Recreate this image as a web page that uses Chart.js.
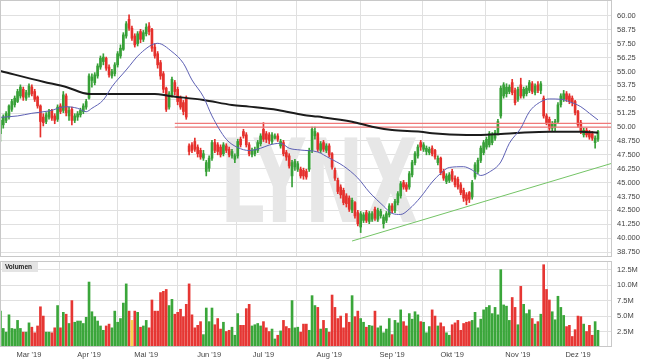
<!DOCTYPE html>
<html><head><meta charset="utf-8">
<script src="https://cdn.jsdelivr.net/npm/chart.js@4.4.1/dist/chart.umd.min.js"></script>
<style>
html,body{margin:0;padding:0;background:#fff;}
#wrap{position:relative;width:645px;height:363px;overflow:hidden;background:#fff;}
canvas{position:absolute;left:0;}
#pc{top:0;} #vc{top:258px;}
</style></head><body>
<div id="wrap"><canvas id="pc" width="645" height="258"></canvas><canvas id="vc" width="645" height="105"></canvas></div>
<script>
// ---- data (day index 0 = mid Feb 2019) ----
const monthLabels = ["Mar '19","Apr '19","Mai '19","Jun '19","Jul '19","Aug '19","Sep '19","Okt '19","Nov '19","Dez '19"];
const monthStarts = [10,31,51,73,92,115,137,158,181,202];

const opens = [49.4,50.2,50.6,50.9,51.6,52.0,52.3,52.8,53.4,52.6,52.9,53.6,53.2,52.7,51.9,50.9,
50.5,50.9,51.5,51.0,50.7,51.9,51.5,52.8,51.0,51.6,50.6,50.9,51.1,51.4,51.8,52.6,
54.2,54.0,54.6,55.4,55.9,56.2,55.4,54.6,54.8,55.6,56.4,57.0,58.2,59.7,58.9,58.2,
57.5,58.6,57.9,58.4,59.1,58.8,57.2,56.6,55.8,54.8,53.5,51.8,52.9,54.0,53.4,52.6,
52.2,52.6,48.3,48.4,48.7,48.2,47.9,47.2,46.0,46.3,47.2,48.6,48.4,48.2,47.6,48.3,
48.0,47.4,47.1,47.4,48.9,49.6,49.3,48.4,47.5,47.6,47.9,48.5,49.8,49.4,49.3,48.7,
49.0,49.2,48.3,48.6,47.7,47.4,45.6,46.4,46.2,46.2,46.1,46.0,46.2,47.9,49.2,49.4,
47.9,48.6,47.9,48.3,47.6,46.1,45.2,44.6,44.3,43.8,43.6,42.5,43.2,42.3,41.0,41.6,
42.3,41.5,41.7,42.6,41.7,42.0,41.3,41.6,42.1,42.9,42.5,43.2,43.8,45.0,44.8,44.6,
45.7,46.8,47.4,48.6,48.0,47.8,47.7,48.1,47.9,46.8,47.2,46.0,45.1,45.2,46.0,45.4,
45.3,44.8,44.3,43.9,44.1,43.7,45.5,46.0,47.0,47.7,48.2,48.4,48.6,49.0,49.5,51.0,
52.8,53.0,53.2,54.0,53.3,52.5,53.8,52.8,53.0,53.3,53.9,53.1,53.8,53.3,52.6,51.0,
50.7,49.9,50.0,50.5,52.0,52.5,53.0,52.8,52.6,52.3,51.4,50.4,49.3,49.7,49.5,49.4,48.6,48.9];
const highs = [50.8,51.1,51.4,52.0,52.5,52.8,53.4,53.8,53.6,53.3,53.9,53.8,53.4,52.8,52.0,51.2,
51.3,51.6,51.6,51.2,52.0,52.1,53.2,53.0,51.8,51.8,51.2,51.4,51.7,52.1,52.5,54.8,
54.8,54.9,55.7,56.4,56.6,56.3,55.6,55.2,55.8,56.8,57.4,58.5,59.5,60.1,59.1,58.4,
58.6,58.8,58.7,59.3,59.4,58.9,57.5,56.8,56.0,55.0,53.6,53.2,54.5,54.2,53.6,52.8,
52.4,52.8,48.5,48.6,49.0,48.4,48.1,47.9,47.0,47.4,48.8,48.9,48.6,48.4,48.6,48.5,
48.2,48.0,47.6,48.9,49.1,49.8,49.5,48.6,48.1,48.2,48.8,49.4,50.4,49.6,49.5,49.5,
49.4,49.4,48.9,48.8,47.9,47.6,47.0,47.1,46.9,46.4,46.3,46.2,48.1,50.0,50.0,49.5,
48.7,48.8,48.5,48.5,47.7,46.3,45.4,44.8,44.5,44.0,43.8,43.6,43.3,42.5,42.4,42.3,
42.5,42.4,42.4,42.8,42.7,42.6,42.1,42.4,43.1,43.1,43.5,44.2,45.1,45.2,45.0,46.0,
47.0,47.8,48.4,48.8,48.6,48.3,48.2,48.3,48.0,47.4,47.3,46.2,45.8,45.9,46.2,45.6,
45.5,45.0,44.5,44.1,44.2,45.2,46.8,47.2,48.3,48.8,49.1,49.6,49.5,49.7,50.7,53.7,
54.0,53.9,53.8,54.3,53.5,53.6,54.4,53.6,53.7,54.2,54.1,53.9,54.1,54.1,52.8,51.2,
50.9,50.5,50.7,52.2,53.0,53.3,53.2,53.0,52.8,52.4,51.5,50.6,49.9,49.9,49.7,49.6,49.2,49.7];
const lows = [48.7,49.9,50.4,50.7,51.4,51.8,52.2,52.6,52.4,52.4,52.7,52.8,52.3,51.7,49.1,50.1,
50.3,50.7,50.6,50.3,50.5,51.2,51.3,51.0,50.6,50.2,50.4,50.6,50.9,51.2,51.6,52.5,
53.6,53.8,54.4,55.2,55.6,55.1,54.5,54.4,54.6,55.4,56.2,56.9,58.0,58.7,57.8,57.2,
57.3,57.6,57.7,58.2,58.3,56.8,56.2,55.3,54.3,53.1,51.4,51.6,52.7,52.9,52.0,51.6,
51.1,50.7,47.5,47.7,47.8,47.3,47.1,47.0,45.6,46.0,47.0,47.7,47.5,47.3,47.4,47.7,
47.3,47.2,46.8,47.2,48.2,49.0,48.2,47.4,47.3,47.4,47.7,48.3,48.7,48.6,48.5,48.5,
48.9,48.7,48.1,47.4,47.0,46.3,44.6,46.1,46.0,45.4,45.3,45.3,46.0,47.7,48.9,47.8,
47.7,47.8,47.7,47.3,46.2,45.2,44.0,43.6,43.0,42.8,42.4,42.3,41.8,41.1,40.5,41.4,
41.4,41.3,41.5,41.6,41.5,41.8,40.9,41.4,41.9,42.3,42.3,43.0,43.6,44.4,44.2,44.4,
45.5,46.6,47.2,47.9,47.8,47.5,47.5,47.4,47.1,46.6,45.7,45.2,44.9,45.0,45.1,44.6,
44.4,43.9,43.3,43.0,43.2,43.5,45.3,45.8,46.8,47.5,48.0,48.2,48.4,48.8,49.3,50.8,
52.6,52.7,53.0,52.9,52.0,52.3,52.6,52.6,52.8,53.1,53.0,52.9,53.1,53.0,50.8,50.2,
49.7,49.6,49.6,50.3,51.8,52.3,52.3,52.1,51.9,51.1,50.0,49.4,49.1,49.1,48.9,48.8,48.1,48.7];
const closes = [50.6,50.9,51.2,51.9,52.3,52.6,53.2,53.6,52.7,53.1,53.7,53.0,52.5,51.9,50.5,50.4,
51.1,51.4,50.8,50.6,51.8,51.4,52.9,51.3,51.5,50.6,51.0,51.2,51.5,51.9,52.3,54.6,
54.5,54.7,55.5,56.2,56.3,55.3,54.7,55.0,55.6,56.6,57.1,58.3,59.3,58.9,58.0,57.4,
58.4,57.9,58.5,59.0,58.6,57.1,56.4,55.6,54.6,53.4,51.6,53.0,54.3,53.2,52.3,51.8,
51.4,50.9,47.8,47.9,48.0,47.6,47.3,47.6,46.8,47.2,48.6,47.9,47.8,47.5,48.4,47.9,
47.5,47.8,47.4,48.7,48.4,49.2,48.4,47.6,47.9,48.0,48.6,49.2,48.9,48.9,48.8,49.3,
49.2,48.9,48.7,47.6,47.3,46.5,46.8,46.9,46.7,45.6,45.6,45.5,47.9,49.8,49.6,48.0,
48.5,48.0,48.3,47.5,46.4,45.4,44.2,43.9,43.2,43.1,42.6,43.4,42.0,41.3,42.2,42.1,
41.6,42.2,42.2,41.8,42.5,42.4,41.9,42.2,42.9,42.5,43.3,44.0,44.9,44.6,44.4,45.8,
46.8,47.6,48.2,48.2,48.4,48.1,48.0,47.6,47.3,47.2,45.9,45.4,45.6,45.7,45.3,44.8,
44.6,44.1,43.6,43.4,43.5,45.0,46.6,47.0,48.1,48.6,48.9,49.4,49.3,49.5,50.5,53.5,
53.8,53.6,53.6,53.1,52.2,53.4,52.8,53.4,53.5,54.0,53.2,53.7,53.3,53.9,51.0,50.4,
49.9,50.3,50.5,52.0,52.8,53.0,52.5,52.3,52.2,51.3,50.2,49.6,49.7,49.3,49.1,49.0,49.0,49.6];
// volume in millions
const volumes = [5.8,3.0,2.4,5.2,3.0,2.9,4.3,3.0,2.4,2.4,3.9,3.2,2.3,3.4,6.5,5.0,
2.4,2.4,2.3,3.1,6.7,3.1,5.6,5.3,3.8,7.5,4.0,4.2,4.2,3.8,4.8,10.5,
5.7,4.9,4.2,3.4,2.7,3.4,3.7,3.1,5.8,4.0,4.6,7.1,10.2,5.8,4.3,5.8,
5.6,3.2,3.4,4.3,3.1,7.6,5.8,5.8,8.8,9.0,9.3,6.7,7.7,5.3,5.6,6.1,
4.9,6.9,10.2,5.2,3.1,3.5,4.1,2.0,6.3,4.1,6.3,3.6,4.6,2.9,4.0,2.5,
2.7,3.2,1.9,5.4,3.5,3.5,6.2,6.9,3.4,3.6,3.8,3.4,4.1,3.1,2.5,2.9,
1.3,1.9,2.6,4.3,3.3,3.0,7.5,3.1,3.2,2.4,3.7,3.7,2.7,8.3,6.7,6.4,
2.9,4.3,3.0,2.4,8.4,6.4,4.6,5.0,3.1,5.4,4.0,8.3,4.9,5.8,4.6,4.0,
3.2,3.5,3.4,5.8,3.1,3.4,2.3,2.9,4.6,2.0,4.3,3.9,6.0,4.1,3.4,5.4,
4.5,5.7,5.2,4.1,4.0,2.3,3.3,6.0,5.0,3.4,3.9,3.3,2.3,1.9,3.6,3.9,
4.3,2.7,3.8,4.0,4.1,4.3,5.6,3.1,4.5,6.0,6.4,6.7,5.4,6.4,5.2,12.5,
6.8,6.6,4.3,8.0,6.4,3.6,9.8,6.9,5.4,6.0,4.6,3.7,4.1,5.3,13.3,9.3,
7.6,5.7,4.4,8.2,6.4,5.1,3.3,3.5,1.7,2.8,5.0,4.9,3.7,2.5,3.5,1.9,4.1,2.7];
const highlightDay = 46;

// moving averages (day index, price)
const smaFastDays = [0,6,11,17,23,27,30,32,36,39,44,49,55,60,64,67,71,74,79,83,87,91,94,98,101,105,111,115,120,125,129,134,137,140,143,147,151,154,157,162,165,168,171,175,178,182,185,189,192,196,199,203,206,209];
const smaFastVals = [50.88,51.0,51.24,51.45,51.83,51.69,51.38,51.69,52.44,53.63,55.14,56.64,57.54,56.79,55.74,54.24,52.73,51.0,48.9,48.16,47.89,48.09,48.38,48.54,48.09,47.93,47.75,47.21,46.49,45.41,44.15,42.89,42.22,42.13,42.62,43.70,45.05,45.84,46.36,46.43,46.13,45.64,45.95,46.85,48.54,49.89,51.38,52.28,52.53,52.50,52.28,51.83,51.24,50.64];
const smaSlowDays = [0,15,23,31,54,59,71,81,87,97,106,111,123,130,137,147,151,163,168,175,182,192,203,209];
const smaSlowVals = [55.05,54.08,53.61,52.98,52.98,52.80,52.44,51.99,51.84,51.54,51.09,50.94,50.48,50.03,49.73,49.58,49.44,49.29,49.29,49.38,49.49,49.58,49.58,49.49];
// resistance band & support trend line
const resistanceLevels = [50.33, 50.0];
const resistanceDays = [61, 213.9];
const trendDays = [123, 213.9];
const trendVals = [39.74, 46.74];

const priceTicks = [38.75,40,41.25,42.5,43.75,45,46.25,47.5,48.75,50,51.25,52.5,53.75,55,56.25,57.5,58.75,60];
const priceTickLabels = ["38.750","40.000","41.250","42.500","43.750","45.000","46.250","47.500","48.750","50.00","51.25","52.50","53.75","55.00","56.25","57.50","58.75","60.00"];
const volTicks = [2.5,5,7.5,10,12.5];
const volTickLabels = ["2.5M","5.0M","7.5M","10.0M","12.5M"];

// ---- styling ----
const FONT = '"Liberation Sans", Arial, sans-serif';
const GREEN = '#37a037', RED = '#e5302c', VGREEN = '#3aa63a', VRED = '#e63633', YELLOW = '#f5d54c';
const GRID = '#e0e0e0';
const X_MIN = -0.14, X_MAX = 213.9;
const isUp = i => closes[i] >= opens[i];
const candleColor = c => isUp(c.dataIndex) ? GREEN : RED;

function noPad(s) { s.paddingTop = 0; s.paddingBottom = 0; s.paddingLeft = 0; s.paddingRight = 0; }
function xAxis(show) {
  return {
    type: 'linear', min: X_MIN, max: X_MAX, offset: false,
    afterBuildTicks: s => { s.ticks = monthStarts.map(v => ({ value: v })); },
    grid: { color: GRID, drawTicks: false },
    border: { display: false },
    ticks: show ? { display: true, autoSkip: false, maxRotation: 0, padding: 3, color: '#444',
      font: { family: FONT, size: 7.5 }, callback: v => monthLabels[monthStarts.indexOf(v)] } : { display: false },
    afterFit: s => { s.height = show ? 16 : 0; noPad(s); }
  };
}
function yAxis(min, max, ticks, labels) {
  return { position: 'right', min, max,
    afterBuildTicks: s => { s.ticks = ticks.map(v => ({ value: v })); },
    grid: { color: GRID, drawTicks: false }, border: { display: false },
    ticks: { padding: 5, color: '#444', font: { family: FONT, size: 7.5 }, callback: v => labels[ticks.indexOf(v)] },
    afterFit: s => { s.width = 33; noPad(s); } };
}
const frame = { id: 'frame', afterDraw(chart) {
  const { ctx, chartArea: a } = chart; ctx.save(); ctx.strokeStyle = '#c8c8c8'; ctx.lineWidth = 1;
  ctx.strokeRect(a.left + 0.5, a.top + 0.5, a.width - 1, a.height - 1); ctx.restore(); } };
const watermark = { id: 'wm', beforeDatasetsDraw(chart) {
  const ctx = chart.ctx; ctx.save();
  ctx.font = 'bold 115px "DejaVu Sans", sans-serif';
  const w = ctx.measureText('LYNX').width;
  ctx.translate(220, 222); ctx.scale(198 / w, 1);
  ctx.fillStyle = '#e7e7e7'; ctx.textBaseline = 'alphabetic'; ctx.fillText('LYNX', 0, 0);
  ctx.restore(); } };
const volTag = { id: 'voltag', afterDraw(chart) {
  const ctx = chart.ctx; ctx.save();
  ctx.fillStyle = '#e4e4e4'; ctx.fillRect(2, 4, 36, 10);
  ctx.fillStyle = '#222'; ctx.font = 'bold 6.5px ' + FONT; ctx.textBaseline = 'middle';
  ctx.fillText('Volumen', 5, 9.5); ctx.restore(); } };

const line = (data, color, width, extra) => Object.assign({ type: 'line', data, borderColor: color, borderWidth: width,
  pointRadius: 0, fill: false, order: 0 }, extra || {});

new Chart(document.getElementById('pc'), {
  type: 'bar',
  data: { datasets: [
    line(smaFastDays.map((d, k) => ({ x: d, y: smaFastVals[k] })), '#5d60b4', 1, { cubicInterpolationMode: 'monotone' }),
    line(smaSlowDays.map((d, k) => ({ x: d, y: smaSlowVals[k] })), '#1c1c1c', 2, { cubicInterpolationMode: 'monotone' }),
    line(resistanceDays.map(d => ({ x: d, y: resistanceLevels[0] })), '#f07a7a', 1.3),
    line(resistanceDays.map(d => ({ x: d, y: resistanceLevels[1] })), '#f07a7a', 1.3),
    line(trendDays.map((d, k) => ({ x: d, y: trendVals[k] })), '#74c466', 1),
    { type: 'bar', data: opens.map((o, i) => ({ x: i, y: [o, closes[i]] })), backgroundColor: candleColor,
      barThickness: 2, minBarLength: 1, grouped: false, order: 1 },
    { type: 'bar', data: lows.map((l, i) => ({ x: i, y: [l, highs[i]] })), backgroundColor: candleColor,
      barThickness: 1, grouped: false, order: 2 }
  ] },
  options: {
    responsive: false, animation: false, devicePixelRatio: 1,
    layout: { padding: { left: 0, right: 0, top: 0, bottom: 1 } },
    plugins: { legend: { display: false }, tooltip: { enabled: false } },
    scales: { x: xAxis(false), y: yAxis(38.3, 61.44, priceTicks, priceTickLabels) }
  },
  plugins: [watermark, frame]
});

new Chart(document.getElementById('vc'), {
  type: 'bar',
  data: { datasets: [
    { data: volumes.map((v, i) => ({ x: i, y: v })),
      backgroundColor: c => c.dataIndex === highlightDay ? YELLOW : (isUp(c.dataIndex) ? VGREEN : VRED),
      barThickness: 2, grouped: false }
  ] },
  options: {
    responsive: false, animation: false, devicePixelRatio: 1,
    layout: { padding: { left: 0, right: 0, top: 3, bottom: 0 } },
    plugins: { legend: { display: false }, tooltip: { enabled: false } },
    scales: { x: xAxis(true), y: yAxis(0, 13.9, volTicks, volTickLabels) }
  },
  plugins: [frame, volTag]
});
</script></body></html>
